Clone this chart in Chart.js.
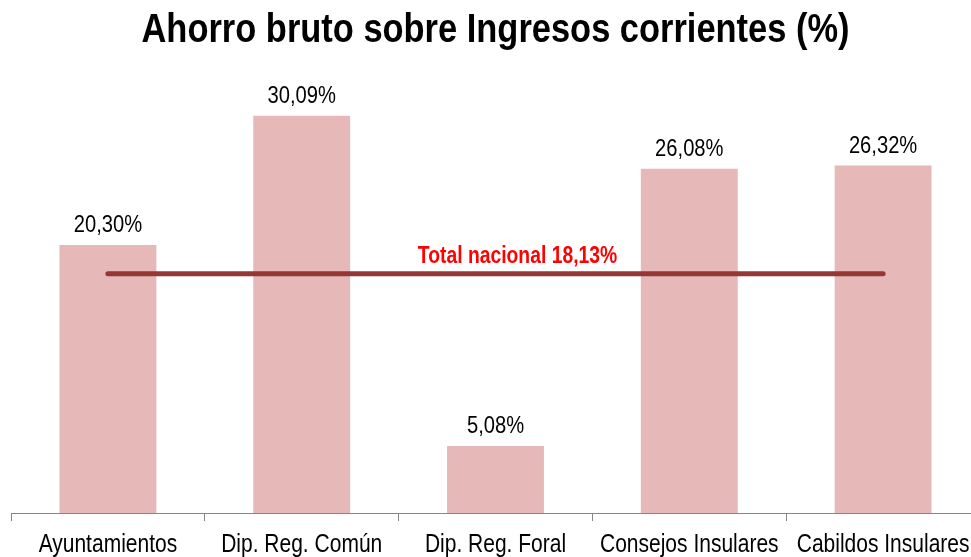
<!DOCTYPE html>
<html>
<head>
<meta charset="utf-8">
<script src="https://cdn.jsdelivr.net/npm/chart.js@4/dist/chart.umd.min.js"></script>
<style>
  html, body { margin: 0; padding: 0; background: #fff; overflow: hidden; width: 971px; height: 557px; }
  canvas { display: block; }
</style>
</head>
<body>
<canvas id="c" width="1020" height="557"></canvas>
<script>
const categories = ['Ayuntamientos', 'Dip. Reg. Común', 'Dip. Reg. Foral', 'Consejos Insulares', 'Cabildos Insulares'];
const ahorroValues = [20.30, 30.09, 5.08, 26.08, 26.32];
const totalNacional = 18.13;
const totalLabel = 'Total nacional 18,13%';
const titleText = 'Ahorro bruto sobre Ingresos corrientes (%)';

const FONT = '"Liberation Sans Narrow", "Arial Narrow", "Liberation Sans", Arial, sans-serif';

// Emulate a narrow (Arial Narrow-like) face: no condensed font is installed,
// so text is drawn horizontally compressed around its anchor point.
const NARROW = 0.84;
const origFillText = CanvasRenderingContext2D.prototype.fillText;
CanvasRenderingContext2D.prototype.fillText = function (text, x, y, maxWidth) {
  this.save();
  this.translate(x, y);
  this.scale(NARROW, 1);
  if (maxWidth === undefined || maxWidth === null) {
    origFillText.call(this, text, 0, 0);
  } else {
    origFillText.call(this, text, 0, 0, maxWidth / NARROW);
  }
  this.restore();
};

const fmt = v => v.toFixed(2).replace('.', ',') + '%';

const labelsPlugin = {
  id: 'valueLabels',
  afterDatasetsDraw(chart) {
    const ctx = chart.ctx;
    ctx.save();
    const barMeta = chart.getDatasetMeta(1);
    ctx.font = '24px ' + FONT;
    ctx.fillStyle = '#000000';
    ctx.textAlign = 'center';
    ctx.textBaseline = 'alphabetic';
    barMeta.data.forEach((bar, i) => {
      ctx.fillText(fmt(ahorroValues[i]), bar.x, bar.y - 13);
    });
    const lineMeta = chart.getDatasetMeta(0);
    const pts = lineMeta.data;
    const cx = (pts[0].x + pts[pts.length - 1].x) / 2 + 22;
    ctx.font = 'bold 23px ' + FONT;
    ctx.fillStyle = '#FF0000';
    ctx.fillText(totalLabel, cx, pts[0].y - 11);
    ctx.restore();
  }
};

new Chart(document.getElementById('c'), {
  type: 'bar',
  data: {
    labels: categories,
    datasets: [
      {
        type: 'line',
        data: categories.map(() => totalNacional),
        borderColor: '#953735',
        borderWidth: 5,
        borderCapStyle: 'round',
        pointRadius: 0,
        fill: false,
        order: 0
      },
      {
        type: 'bar',
        data: ahorroValues,
        backgroundColor: '#E6B9B8',
        borderWidth: 0,
        barPercentage: 0.5,
        categoryPercentage: 1.0,
        order: 1
      }
    ]
  },
  options: {
    responsive: false,
    animation: false,
    layout: { padding: { left: 11, right: 40, top: 0, bottom: 0 } },
    plugins: {
      legend: { display: false },
      tooltip: { enabled: false },
      title: {
        display: true,
        text: titleText,
        color: '#000000',
        font: { family: FONT, size: 41, weight: 'bold', lineHeight: 1.0 },
        padding: { top: 10, bottom: 0 }
      }
    },
    scales: {
      x: {
        offset: true,
        grid: { offset: true, drawOnChartArea: false, drawTicks: true, tickLength: 8, color: '#868686', lineWidth: 1 },
        border: { display: true, color: '#868686', width: 1 },
        ticks: { color: '#000000', font: { family: FONT, size: 25, lineHeight: 1.0 }, padding: 12, maxRotation: 0, autoSkip: false },
        afterFit(scale) { scale.height = 44; }
      },
      y: {
        display: false,
        min: 0,
        max: 35
      }
    }
  },
  plugins: [labelsPlugin]
});
</script>
</body>
</html>
